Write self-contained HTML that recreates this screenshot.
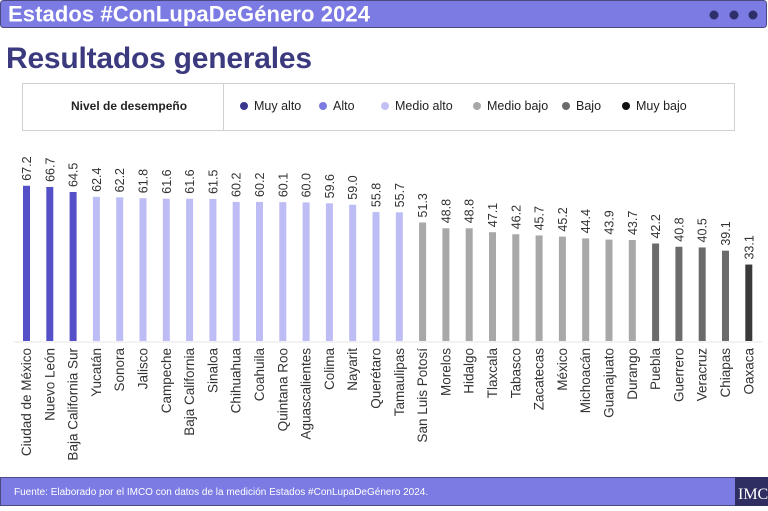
<!DOCTYPE html>
<html><head><meta charset="utf-8"><style>
body{margin:0;width:768px;height:506px;overflow:hidden;background:#fff;font-family:"Liberation Sans",sans-serif;}
</style></head><body>
<svg width="768" height="506" xmlns="http://www.w3.org/2000/svg" font-family="Liberation Sans, sans-serif">
<rect x="0.5" y="0.5" width="766" height="27" rx="3" fill="#7b7be3" stroke="#4a4a80"/>
<text x="8" y="21.5" font-size="22" font-weight="bold" fill="#fff" textLength="362">Estados #ConLupaDeGénero 2024</text>
<circle cx="714" cy="15" r="4.5" fill="#2e2e6a"/><circle cx="734" cy="15" r="4.5" fill="#2e2e6a"/><circle cx="753" cy="15" r="4.5" fill="#2e2e6a"/>
<text x="6" y="68" font-size="30" font-weight="bold" fill="#3c3a7e" textLength="306">Resultados generales</text>
<rect x="22.5" y="83.5" width="712" height="47" fill="#fff" stroke="#d0d0d0"/>
<line x1="223.5" y1="84" x2="223.5" y2="130" stroke="#d0d0d0"/>
<g font-size="12.5" fill="#222">
<text x="71" y="110" font-weight="bold" font-size="12">Nivel de desempeño</text>
<circle cx="244" cy="106" r="4" fill="#3a3690"/><text x="254" y="110">Muy alto</text>
<circle cx="323" cy="106" r="4" fill="#7b7be3"/><text x="333" y="110">Alto</text>
<circle cx="385" cy="106" r="4" fill="#c2c1f3"/><text x="395" y="110">Medio alto</text>
<circle cx="477" cy="106" r="4" fill="#a8a8a8"/><text x="487" y="110">Medio bajo</text>
<circle cx="566" cy="106" r="4" fill="#6b6b6b"/><text x="576" y="110">Bajo</text>
<circle cx="626" cy="106" r="4" fill="#111"/><text x="636" y="110">Muy bajo</text>
</g>
<line x1="14" y1="342" x2="762" y2="342" stroke="#e6e6e6"/>
<g id="bars"></g>
<rect x="0.5" y="477.5" width="735" height="28" fill="#7b7be3" stroke="#4a4a80"/>
<text x="14" y="495" font-size="10" fill="#fff">Fuente: Elaborado por el IMCO con datos de la medición Estados #ConLupaDeGénero 2024.</text>
<rect x="735" y="477" width="33" height="29" fill="#2e2e62"/>
<text x="738" y="499" font-size="16" font-family="Liberation Serif, serif" fill="#fff">IMC</text>
</svg>
<script>
var d=[["Ciudad de México",67.2,"#5550c8"],["Nuevo León",66.7,"#5550c8"],["Baja California Sur",64.5,"#5550c8"],["Yucatán",62.4,"#bdbcf5"],["Sonora",62.2,"#bdbcf5"],["Jalisco",61.8,"#bdbcf5"],["Campeche",61.6,"#bdbcf5"],["Baja California",61.6,"#bdbcf5"],["Sinaloa",61.5,"#bdbcf5"],["Chihuahua",60.2,"#bdbcf5"],["Coahuila",60.2,"#bdbcf5"],["Quintana Roo",60.1,"#bdbcf5"],["Aguascalientes",60.0,"#bdbcf5"],["Colima",59.6,"#bdbcf5"],["Nayarit",59.0,"#bdbcf5"],["Querétaro",55.8,"#bdbcf5"],["Tamaulipas",55.7,"#bdbcf5"],["San Luis Potosí",51.3,"#a8a8a8"],["Morelos",48.8,"#a8a8a8"],["Hidalgo",48.8,"#a8a8a8"],["Tlaxcala",47.1,"#a8a8a8"],["Tabasco",46.2,"#a8a8a8"],["Zacatecas",45.7,"#a8a8a8"],["México",45.2,"#a8a8a8"],["Michoacán",44.4,"#a8a8a8"],["Guanajuato",43.9,"#a8a8a8"],["Durango",43.7,"#a8a8a8"],["Puebla",42.2,"#6b6b6b"],["Guerrero",40.8,"#6b6b6b"],["Veracruz",40.5,"#6b6b6b"],["Chiapas",39.1,"#6b6b6b"],["Oaxaca",33.1,"#3a3a3a"]];
var g=document.getElementById("bars"),s="";
d.forEach(function(r,i){var cx=26.5+i*23.3,h=r[1]*2.31,t=341-h;
s+='<rect x="'+(cx-3.5)+'" y="'+t+'" width="7" height="'+h+'" fill="'+r[2]+'"/>';
s+='<text transform="translate('+(cx+4.5)+','+(t-5)+') rotate(-90)" font-size="12.5" fill="#333">'+r[1].toFixed(1)+'</text>';
s+='<text transform="translate('+(cx+4.5)+',348) rotate(-90)" text-anchor="end" font-size="13.5" fill="#333">'+r[0]+'</text>';});
g.innerHTML=s;
</script>
</body></html>
